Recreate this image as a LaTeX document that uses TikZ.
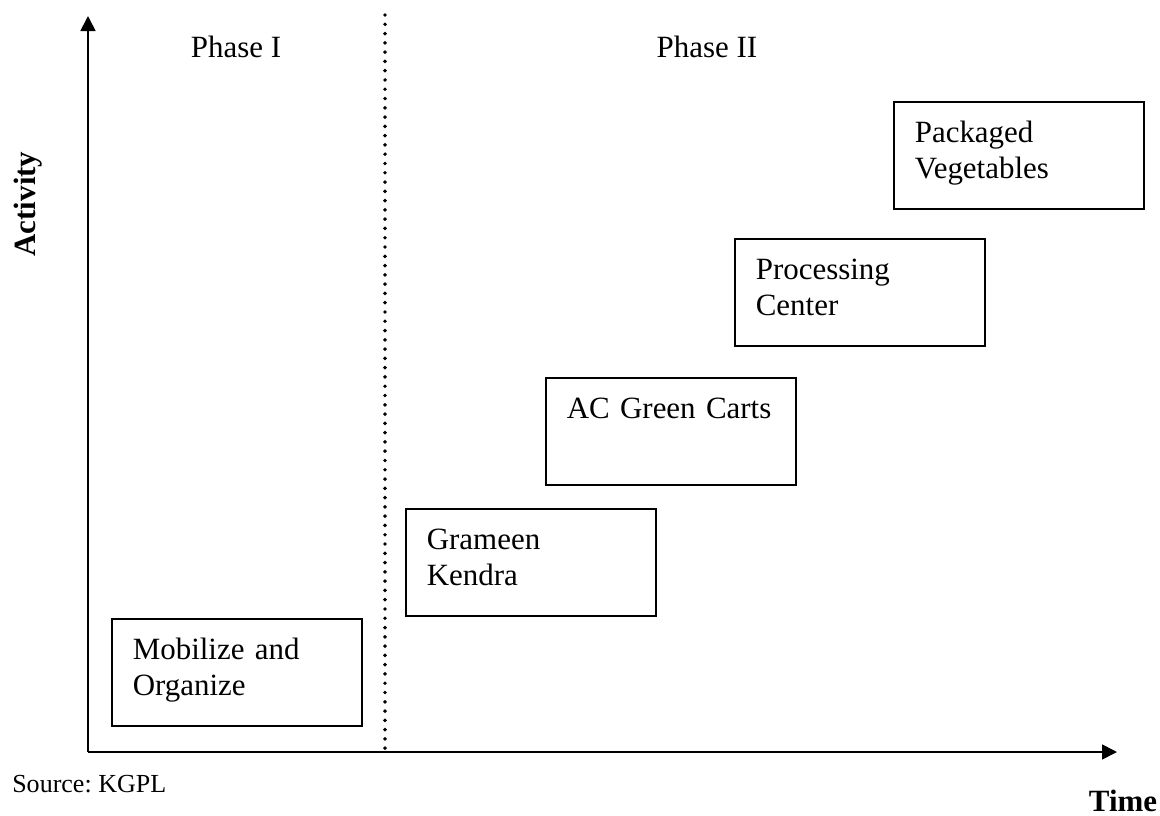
\documentclass[tikz,border=0pt]{standalone}
\usepackage{fontspec}
\setmainfont{Liberation Serif}
\usetikzlibrary{arrows.meta}
\frenchspacing

\tikzset{
  stage/.style={draw, line width=1.2pt, anchor=north west, align=left,
    text width=5.2cm, inner xsep=0.525cm, minimum height=2.675cm,
    text height=16pt, text depth=35pt, font=\fontsize{22}{26.3}\selectfont},
  axis/.style={line width=1.2pt, -{Triangle[length=0.375cm, width=0.375cm]}},
  phase/.style={anchor=base, font=\fontsize{22}{26.3}\selectfont}
}

\begin{document}
\begin{tikzpicture}[x=0.025cm, y=-0.025cm]
\useasboundingbox (0,0) rectangle (1160,816);

\coordinate (origin) at (88,752);
\coordinate (ytop) at (88,16);
\coordinate (xend) at (1117,752);
\coordinate (divtop) at (385,15);
\coordinate (divbot) at (385,755);

\draw [axis] (origin) -- (ytop);
\draw [axis] (origin) -- (xend);
\draw [line width=2.8pt, line cap=round, dash pattern=on 0pt off 6.6pt] (divtop) -- (divbot);

\node (phase-1) at (236,57) [phase]{Phase I};
\node (phase-2) at (707,57) [phase]{Phase II};

\node (activity) at (28,204) [rotate=90, font=\fontsize{22}{26.3}\selectfont\bfseries]{Activity};
\node (time) at (1123,811) [anchor=base, font=\fontsize{22}{26.3}\selectfont\bfseries]{Time};
\node (source) at (12,792) [anchor=base west, inner sep=0pt, font=\fontsize{18.5}{22}\selectfont]{Source: KGPL};

\node (mobilize) at (111,618) [stage]{Mobilize and\\Organize};
\node (grameen) at (405,508) [stage]{Grameen\\Kendra};
\node (carts) at (545,377) [stage]{AC Green Carts};
\node (processing) at (734,238) [stage]{Processing\\Center};
\node (packaged) at (893,101) [stage]{Packaged\\Vegetables};

\end{tikzpicture}
\end{document}
